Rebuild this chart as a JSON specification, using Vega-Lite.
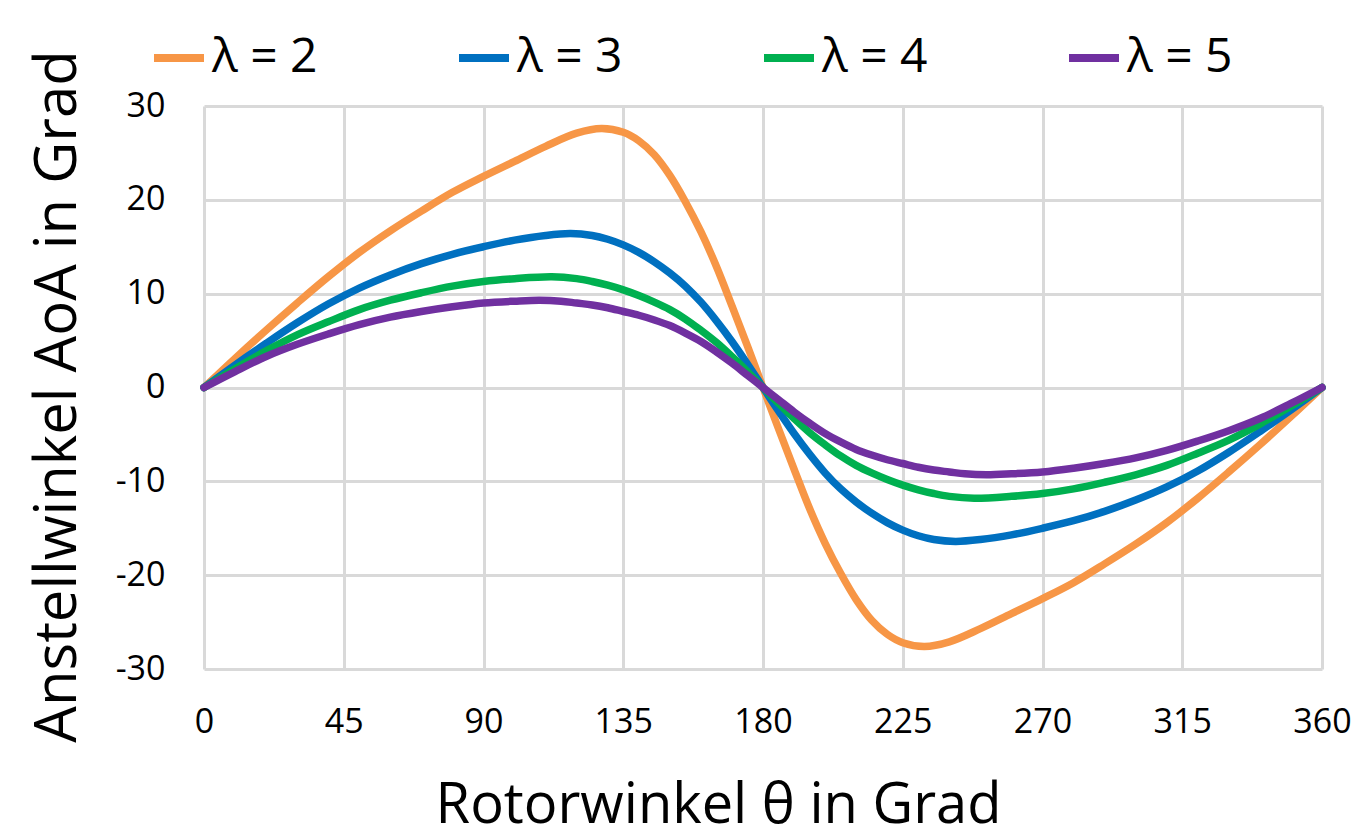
{
  "$schema": "https://vega.github.io/schema/vega-lite/v6.json",
  "width": 1118,
  "height": 563,
  "autosize": "none",
  "padding": {"left": 204, "top": 106, "right": 29, "bottom": 168},
  "background": "white",
  "config": {"view": {"stroke": null}, "font": "Open Sans"},
  "data": {"values": [
    {"s":"λ = 2","t":0,"v":0},{"s":"λ = 2","t":10,"v":3.1},{"s":"λ = 2","t":20,"v":6.1},{"s":"λ = 2","t":30,"v":9.0},{"s":"λ = 2","t":40,"v":11.8},{"s":"λ = 2","t":50,"v":14.4},{"s":"λ = 2","t":60,"v":16.7},{"s":"λ = 2","t":70,"v":18.8},{"s":"λ = 2","t":80,"v":20.8},{"s":"λ = 2","t":90,"v":22.5},{"s":"λ = 2","t":100,"v":24.1},{"s":"λ = 2","t":110,"v":25.7},{"s":"λ = 2","t":120,"v":27.1},{"s":"λ = 2","t":128,"v":27.6},{"s":"λ = 2","t":135,"v":27.2},{"s":"λ = 2","t":140,"v":26.3},{"s":"λ = 2","t":145,"v":24.8},{"s":"λ = 2","t":150,"v":22.6},{"s":"λ = 2","t":155,"v":19.8},{"s":"λ = 2","t":160,"v":16.6},{"s":"λ = 2","t":165,"v":12.9},{"s":"λ = 2","t":170,"v":8.7},{"s":"λ = 2","t":175,"v":4.4},{"s":"λ = 2","t":180,"v":0},
    {"s":"λ = 2","t":185,"v":-4.4},{"s":"λ = 2","t":190,"v":-8.7},{"s":"λ = 2","t":195,"v":-12.9},{"s":"λ = 2","t":200,"v":-16.6},{"s":"λ = 2","t":205,"v":-19.8},{"s":"λ = 2","t":210,"v":-22.6},{"s":"λ = 2","t":215,"v":-24.8},{"s":"λ = 2","t":220,"v":-26.3},{"s":"λ = 2","t":225,"v":-27.2},{"s":"λ = 2","t":232,"v":-27.6},{"s":"λ = 2","t":240,"v":-27.1},{"s":"λ = 2","t":250,"v":-25.7},{"s":"λ = 2","t":260,"v":-24.1},{"s":"λ = 2","t":270,"v":-22.5},{"s":"λ = 2","t":280,"v":-20.8},{"s":"λ = 2","t":290,"v":-18.8},{"s":"λ = 2","t":300,"v":-16.7},{"s":"λ = 2","t":310,"v":-14.4},{"s":"λ = 2","t":320,"v":-11.8},{"s":"λ = 2","t":330,"v":-9.0},{"s":"λ = 2","t":340,"v":-6.1},{"s":"λ = 2","t":350,"v":-3.1},{"s":"λ = 2","t":360,"v":0},
    {"s":"λ = 3","t":0,"v":0},{"s":"λ = 3","t":10,"v":2.4},{"s":"λ = 3","t":20,"v":4.7},{"s":"λ = 3","t":30,"v":6.9},{"s":"λ = 3","t":40,"v":8.9},{"s":"λ = 3","t":50,"v":10.6},{"s":"λ = 3","t":60,"v":12.0},{"s":"λ = 3","t":70,"v":13.2},{"s":"λ = 3","t":80,"v":14.2},{"s":"λ = 3","t":90,"v":15.0},{"s":"λ = 3","t":100,"v":15.7},{"s":"λ = 3","t":110,"v":16.2},{"s":"λ = 3","t":118,"v":16.4},{"s":"λ = 3","t":125,"v":16.2},{"s":"λ = 3","t":130,"v":15.8},{"s":"λ = 3","t":135,"v":15.2},{"s":"λ = 3","t":140,"v":14.4},{"s":"λ = 3","t":145,"v":13.4},{"s":"λ = 3","t":150,"v":12.2},{"s":"λ = 3","t":155,"v":10.8},{"s":"λ = 3","t":160,"v":9.1},{"s":"λ = 3","t":165,"v":7.1},{"s":"λ = 3","t":170,"v":4.9},{"s":"λ = 3","t":175,"v":2.5},{"s":"λ = 3","t":180,"v":0},
    {"s":"λ = 3","t":185,"v":-2.5},{"s":"λ = 3","t":190,"v":-4.9},{"s":"λ = 3","t":195,"v":-7.1},{"s":"λ = 3","t":200,"v":-9.1},{"s":"λ = 3","t":205,"v":-10.8},{"s":"λ = 3","t":210,"v":-12.2},{"s":"λ = 3","t":215,"v":-13.4},{"s":"λ = 3","t":220,"v":-14.4},{"s":"λ = 3","t":225,"v":-15.2},{"s":"λ = 3","t":230,"v":-15.8},{"s":"λ = 3","t":235,"v":-16.2},{"s":"λ = 3","t":242,"v":-16.4},{"s":"λ = 3","t":250,"v":-16.2},{"s":"λ = 3","t":260,"v":-15.7},{"s":"λ = 3","t":270,"v":-15.0},{"s":"λ = 3","t":280,"v":-14.2},{"s":"λ = 3","t":290,"v":-13.2},{"s":"λ = 3","t":300,"v":-12.0},{"s":"λ = 3","t":310,"v":-10.6},{"s":"λ = 3","t":320,"v":-8.9},{"s":"λ = 3","t":330,"v":-6.9},{"s":"λ = 3","t":340,"v":-4.7},{"s":"λ = 3","t":350,"v":-2.4},{"s":"λ = 3","t":360,"v":0},
    {"s":"λ = 4","t":0,"v":0},{"s":"λ = 4","t":10,"v":2.0},{"s":"λ = 4","t":20,"v":3.9},{"s":"λ = 4","t":30,"v":5.6},{"s":"λ = 4","t":40,"v":7.0},{"s":"λ = 4","t":50,"v":8.3},{"s":"λ = 4","t":60,"v":9.3},{"s":"λ = 4","t":70,"v":10.1},{"s":"λ = 4","t":80,"v":10.8},{"s":"λ = 4","t":90,"v":11.3},{"s":"λ = 4","t":100,"v":11.6},{"s":"λ = 4","t":112,"v":11.8},{"s":"λ = 4","t":120,"v":11.6},{"s":"λ = 4","t":125,"v":11.3},{"s":"λ = 4","t":130,"v":10.9},{"s":"λ = 4","t":135,"v":10.4},{"s":"λ = 4","t":140,"v":9.8},{"s":"λ = 4","t":145,"v":9.1},{"s":"λ = 4","t":150,"v":8.3},{"s":"λ = 4","t":155,"v":7.3},{"s":"λ = 4","t":160,"v":6.1},{"s":"λ = 4","t":165,"v":4.8},{"s":"λ = 4","t":170,"v":3.3},{"s":"λ = 4","t":175,"v":1.7},{"s":"λ = 4","t":180,"v":0},
    {"s":"λ = 4","t":185,"v":-1.7},{"s":"λ = 4","t":190,"v":-3.3},{"s":"λ = 4","t":195,"v":-4.8},{"s":"λ = 4","t":200,"v":-6.1},{"s":"λ = 4","t":205,"v":-7.3},{"s":"λ = 4","t":210,"v":-8.3},{"s":"λ = 4","t":215,"v":-9.1},{"s":"λ = 4","t":220,"v":-9.8},{"s":"λ = 4","t":225,"v":-10.4},{"s":"λ = 4","t":230,"v":-10.9},{"s":"λ = 4","t":235,"v":-11.3},{"s":"λ = 4","t":240,"v":-11.6},{"s":"λ = 4","t":248,"v":-11.8},{"s":"λ = 4","t":260,"v":-11.6},{"s":"λ = 4","t":270,"v":-11.3},{"s":"λ = 4","t":280,"v":-10.8},{"s":"λ = 4","t":290,"v":-10.1},{"s":"λ = 4","t":300,"v":-9.3},{"s":"λ = 4","t":310,"v":-8.3},{"s":"λ = 4","t":320,"v":-7.0},{"s":"λ = 4","t":330,"v":-5.6},{"s":"λ = 4","t":340,"v":-3.9},{"s":"λ = 4","t":350,"v":-2.0},{"s":"λ = 4","t":360,"v":0},
    {"s":"λ = 5","t":0,"v":0},{"s":"λ = 5","t":10,"v":1.7},{"s":"λ = 5","t":20,"v":3.3},{"s":"λ = 5","t":30,"v":4.6},{"s":"λ = 5","t":40,"v":5.7},{"s":"λ = 5","t":50,"v":6.7},{"s":"λ = 5","t":60,"v":7.5},{"s":"λ = 5","t":70,"v":8.1},{"s":"λ = 5","t":80,"v":8.6},{"s":"λ = 5","t":90,"v":9.0},{"s":"λ = 5","t":100,"v":9.2},{"s":"λ = 5","t":108,"v":9.3},{"s":"λ = 5","t":115,"v":9.2},{"s":"λ = 5","t":120,"v":9.0},{"s":"λ = 5","t":125,"v":8.8},{"s":"λ = 5","t":130,"v":8.5},{"s":"λ = 5","t":135,"v":8.1},{"s":"λ = 5","t":140,"v":7.7},{"s":"λ = 5","t":145,"v":7.2},{"s":"λ = 5","t":150,"v":6.6},{"s":"λ = 5","t":155,"v":5.8},{"s":"λ = 5","t":160,"v":4.9},{"s":"λ = 5","t":165,"v":3.8},{"s":"λ = 5","t":170,"v":2.6},{"s":"λ = 5","t":175,"v":1.3},{"s":"λ = 5","t":180,"v":0},
    {"s":"λ = 5","t":185,"v":-1.3},{"s":"λ = 5","t":190,"v":-2.6},{"s":"λ = 5","t":195,"v":-3.8},{"s":"λ = 5","t":200,"v":-4.9},{"s":"λ = 5","t":205,"v":-5.8},{"s":"λ = 5","t":210,"v":-6.6},{"s":"λ = 5","t":215,"v":-7.2},{"s":"λ = 5","t":220,"v":-7.7},{"s":"λ = 5","t":225,"v":-8.1},{"s":"λ = 5","t":230,"v":-8.5},{"s":"λ = 5","t":235,"v":-8.8},{"s":"λ = 5","t":240,"v":-9.0},{"s":"λ = 5","t":245,"v":-9.2},{"s":"λ = 5","t":252,"v":-9.3},{"s":"λ = 5","t":260,"v":-9.2},{"s":"λ = 5","t":270,"v":-9.0},{"s":"λ = 5","t":280,"v":-8.6},{"s":"λ = 5","t":290,"v":-8.1},{"s":"λ = 5","t":300,"v":-7.5},{"s":"λ = 5","t":310,"v":-6.7},{"s":"λ = 5","t":320,"v":-5.7},{"s":"λ = 5","t":330,"v":-4.6},{"s":"λ = 5","t":340,"v":-3.3},{"s":"λ = 5","t":350,"v":-1.7},{"s":"λ = 5","t":360,"v":0}
  ]},
  "mark": {"type": "line", "interpolate": "catmull-rom", "strokeWidth": 7.5, "strokeCap": "round", "strokeJoin": "round"},
  "encoding": {
    "x": {
      "field": "t", "type": "quantitative",
      "scale": {"domain": [0, 360], "nice": false, "zero": false},
      "axis": {
        "values": [0, 45, 90, 135, 180, 225, 270, 315, 360],
        "title": "Rotorwinkel θ in Grad",
        "grid": true, "gridColor": "#D9D9D9", "gridWidth": 3,
        "domain": false, "ticks": false, "tickSize": 0,
        "labelFontSize": 34, "labelPadding": 36, "labelColor": "black", "labelFlush": false, "labelOverlap": false,
        "titleFontSize": 56, "titleFontWeight": "normal", "titleColor": "black",
        "titleX": 514, "titleY": 153, "titleBaseline": "alphabetic", "titleAlign": "center"
      }
    },
    "y": {
      "field": "v", "type": "quantitative",
      "scale": {"domain": [-30, 30], "nice": false, "zero": false},
      "axis": {
        "values": [-30, -20, -10, 0, 10, 20, 30],
        "labelExpr": "toString(datum.value)",
        "title": "Anstellwinkel AoA in Grad",
        "grid": true, "gridColor": "#D9D9D9", "gridWidth": 3,
        "domain": false, "ticks": false, "tickSize": 0,
        "labelFontSize": 34, "labelPadding": 39, "labelColor": "black", "labelFlush": false, "labelOverlap": false,
        "titleFontSize": 58, "titleFontWeight": "normal", "titleColor": "black",
        "titleAngle": -90, "titleX": -129, "titleY": 290, "titleBaseline": "alphabetic", "titleAlign": "center"
      }
    },
    "color": {
      "field": "s", "type": "nominal",
      "scale": {"domain": ["λ = 2", "λ = 3", "λ = 4", "λ = 5"], "range": ["#F79646", "#0070C0", "#00B050", "#7030A0"]},
      "legend": {
        "orient": "none", "legendX": -54, "legendY": -77, "direction": "horizontal", "title": null,
        "symbolType": "stroke", "symbolSize": 2500, "symbolStrokeWidth": 8,
        "labelFontSize": 48, "labelOffset": 4, "labelColor": "black", "columnPadding": 125, "padding": 0, "labelLimit": 300
      }
    }
  }
}
